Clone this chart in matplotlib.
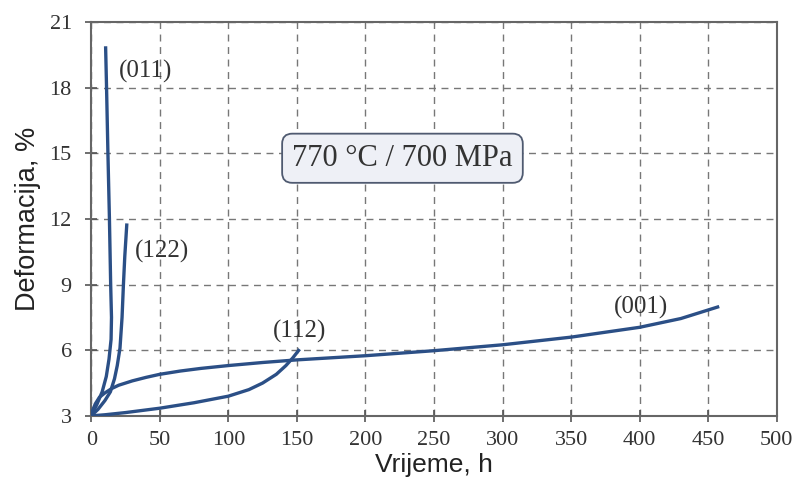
import numpy as np
import matplotlib
matplotlib.use("Agg")
import matplotlib.pyplot as plt

# creep curves: time (h) vs strain (%)
t_001 = [0, 1, 3, 6, 10, 15, 20, 30, 40, 50, 65, 80, 100, 125, 150, 200, 250, 300, 350, 400, 430, 458]
e_001 = [3.0, 3.25, 3.55, 3.85, 4.05, 4.25, 4.4, 4.6, 4.76, 4.9, 5.05, 5.17, 5.3, 5.44, 5.56, 5.75, 5.98, 6.25, 6.6, 7.05, 7.45, 8.0]

t_112 = [0, 10, 25, 50, 75, 100, 115, 125, 135, 142, 147, 152]
e_112 = [3.0, 3.05, 3.15, 3.35, 3.6, 3.9, 4.2, 4.5, 4.9, 5.3, 5.65, 6.05]

t_122 = [0, 5, 10, 14, 17, 19, 21, 22.5, 23.5, 24.5, 26]
e_122 = [3.0, 3.3, 3.7, 4.1, 4.7, 5.3, 6.1, 7.5, 9.0, 10.3, 11.8]

t_011 = [0, 4, 8, 11, 13, 14.5, 14.8, 14.2, 13.3, 12.2, 11.2, 10.5]
e_011 = [3.0, 3.5, 4.1, 4.8, 5.6, 6.5, 7.5, 9.0, 12.0, 15.0, 18.0, 19.9]

labels = ["(011)", "(122)", "(112)", "(001)"]
label_pos = [(20, 18.75), (32, 10.5), (152, 6.85), (401, 7.98)]

xticks = np.arange(0, 501, 50)
yticks = np.arange(3, 22, 3)

line_col = "#2b4f86"
serif = ["Liberation Serif", "DejaVu Serif"]

fig = plt.figure(figsize=(8, 4.83), dpi=100)
ax = fig.add_axes([0.114, 0.139, 0.857, 0.815])

for t, e in [(t_001, e_001), (t_112, e_112), (t_122, e_122), (t_011, e_011)]:
    ax.plot(t, e, color=line_col, lw=2.4, solid_capstyle="butt", solid_joinstyle="round", zorder=3)

ax.text(label_pos[0][0], label_pos[0][1], labels[0], fontsize=18, family=serif, color="#333333", ha="left", va="center")
ax.text(label_pos[1][0], label_pos[1][1], labels[1], fontsize=18, family=serif, color="#333333", ha="left", va="center")
ax.text(label_pos[2][0], label_pos[2][1], labels[2], fontsize=18, family=serif, color="#333333", ha="center", va="center")
ax.text(label_pos[3][0], label_pos[3][1], labels[3], fontsize=18, family=serif, color="#333333", ha="center", va="center")

ax.text(227, 14.78, "770 °C / 700 MPa", fontsize=22, family=serif, color="#333333", ha="center", va="center",
        bbox=dict(boxstyle="round,pad=0.33", fc="#eef0f6", ec="#4f5a70", lw=1.3), zorder=4)

ax.set_xlim(0, 500)
ax.set_ylim(3, 21)
ax.set_xticks(xticks)
ax.set_yticks(yticks)
ax.grid(True, ls=(0, (5, 4)), color="#777777", lw=1.0)
ax.tick_params(direction="inout", length=8, width=1.2, colors="#555555", labelcolor="#333333", labelsize=16)
ax.tick_params(axis="x", pad=7)
ax.tick_params(axis="y", pad=10)
for lab in ax.get_xticklabels() + ax.get_yticklabels():
    lab.set_family(serif)
for sp in ax.spines.values():
    sp.set_color("#666666")
    sp.set_linewidth(1.5)

ax.set_xlabel("Vrijeme, h", fontsize=19, family="Liberation Sans", color="#222222", labelpad=2)
ax.set_ylabel("Deformacija, %", fontsize=19.5, family="Liberation Sans", color="#222222", labelpad=6)

fig.savefig("out.png", dpi=100)
